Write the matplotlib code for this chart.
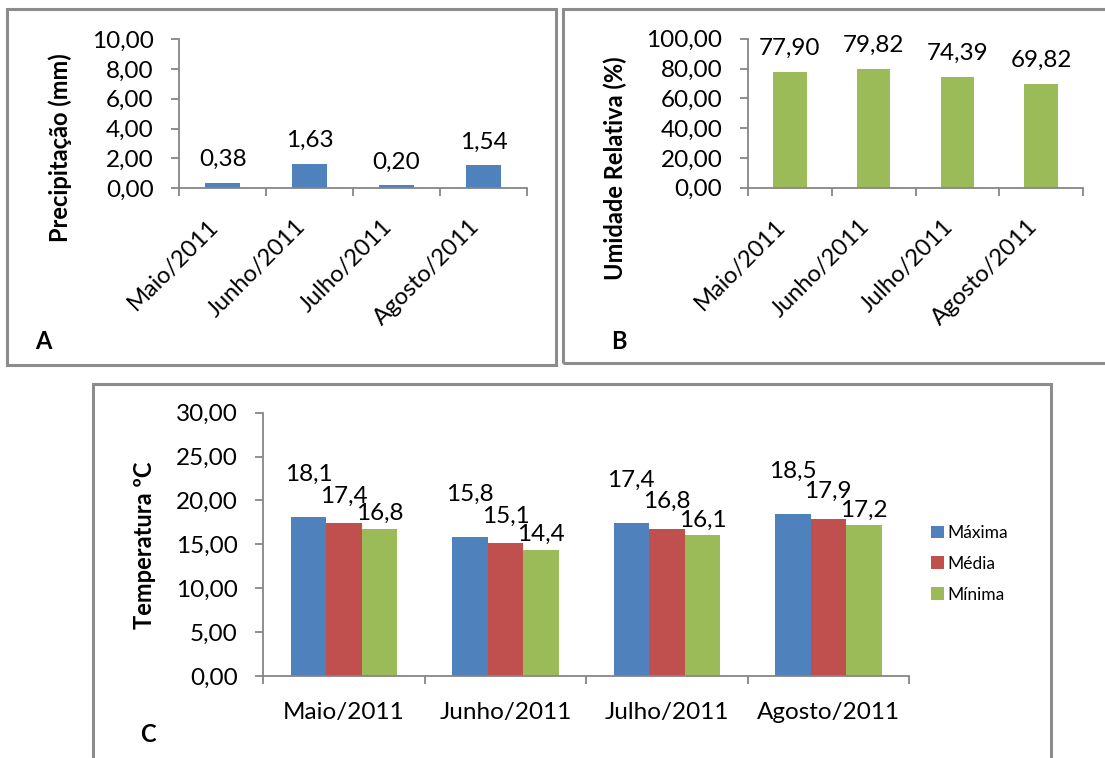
import numpy as np
import matplotlib
matplotlib.use('Agg')
from matplotlib import pyplot as plt
from matplotlib.patches import Rectangle
from matplotlib.ticker import FuncFormatter

plt.rcParams['font.family'] = ['Lato', 'DejaVu Sans']

# dados
meses = ['Maio/2011', 'Junho/2011', 'Julho/2011', 'Agosto/2011']
precipitacao = [0.38, 1.63, 0.20, 1.54]
umidade = [77.90, 79.82, 74.39, 69.82]
t_maxima = [18.1, 15.8, 17.4, 18.5]
t_media = [17.4, 15.1, 16.8, 17.9]
t_minima = [16.8, 14.4, 16.1, 17.2]
series_temp = ['Máxima', 'Média', 'Mínima']

W, H = 1105, 758
azul, vermelho, verde = '#4f81bd', '#c0504d', '#9bbb59'
cinza = '#868686'
fs = 17.5
fs_rot = 17


def virgula(v, casas):
    return f'{v:.{casas}f}'.replace('.', ',')


def px(l, t, r, b):
    # retangulo em pixels -> fracao da figura
    return [l / W, 1 - b / H, (r - l) / W, (b - t) / H]


fig = plt.figure(figsize=(W / 100, H / 100), dpi=100)


def moldura(l, t, r, b):
    fig.patches.append(Rectangle((l / W, 1 - b / H), (r - l) / W, (b - t) / H,
                                 transform=fig.transFigure, fill=False,
                                 ec='#8c8c8c', lw=2.2))


def estilo(ax, ymax, ystep, n, rot):
    ax.set_xlim(-0.5, n - 0.5)
    ax.set_ylim(0, ymax)
    ax.set_yticks(np.arange(0, ymax + ystep / 2, ystep))
    ax.yaxis.set_major_formatter(FuncFormatter(lambda v, p: virgula(v, 2)))
    for s in ['top', 'right']:
        ax.spines[s].set_visible(False)
    for s in ['left', 'bottom']:
        ax.spines[s].set_color(cinza)
        ax.spines[s].set_linewidth(1.3)
    ax.tick_params(axis='y', direction='out', length=5.5, width=1.3,
                   color=cinza, labelsize=fs, pad=13)
    # ticks nas divisas das categorias, rotulos no centro
    ax.set_xticks(np.arange(n + 1) - 0.5)
    ax.set_xticklabels([])
    ax.tick_params(axis='x', which='major', direction='out', length=6,
                   width=1.3, color=cinza)
    ax.set_xticks(np.arange(n), meses, minor=True)
    if rot:
        ax.tick_params(axis='x', which='minor', length=0, labelsize=fs_rot, pad=20)
        plt.setp(ax.get_xticklabels(minor=True), rotation=45, ha='right', va='top')
    else:
        ax.tick_params(axis='x', which='minor', length=0, labelsize=fs, pad=19)


x = np.arange(len(meses))

# A - precipitacao
moldura(7, 9, 556, 365)
ax_a = fig.add_axes(px(179.3, 39, 527, 188.3))
ax_a.bar(x, precipitacao, width=0.4, color=azul)
estilo(ax_a, 10, 2, len(meses), True)
for xi, v in zip(x, precipitacao):
    ax_a.annotate(virgula(v, 2), (xi, v), xytext=(0, 12), textcoords='offset points',
                  ha='center', va='baseline', fontsize=fs)
fig.text(60 / W, 1 - 148 / H, 'Precipitação (mm)', rotation=90, ha='center',
         va='center', fontsize=17, fontweight='bold')
fig.text(35 / W, 1 - 349 / H, 'A', ha='left', va='baseline', fontsize=17,
         fontweight='bold')

# B - umidade relativa
moldura(563, 9, 1115, 363)
ax_b = fig.add_axes(px(748, 38.7, 1083, 187.7))
ax_b.bar(x, umidade, width=0.4, color=verde)
estilo(ax_b, 100, 20, len(meses), True)
for xi, v in zip(x, umidade):
    ax_b.annotate(virgula(v, 2), (xi, v), xytext=(0, 12), textcoords='offset points',
                  ha='center', va='baseline', fontsize=fs)
fig.text(615 / W, 1 - 168 / H, 'Umidade Relativa (%)', rotation=90, ha='center',
         va='center', fontsize=17, fontweight='bold')
fig.text(611 / W, 1 - 349 / H, 'B', ha='left', va='baseline', fontsize=17,
         fontweight='bold')

# C - temperatura
moldura(93, 384, 1051, 775)
ax_c = fig.add_axes(px(263.3, 412.7, 909, 676))
w = 0.22
cores = [azul, vermelho, verde]
folgas = [26, 15, 6]
for i, (nome, vals) in enumerate(zip(series_temp, [t_maxima, t_media, t_minima])):
    pos = x + (i - 1) * w
    ax_c.bar(pos, vals, width=w, color=cores[i], label=nome)
    for xi, v in zip(pos, vals):
        ax_c.annotate(virgula(v, 1), (xi, v), xytext=(0, folgas[i]),
                      textcoords='offset points', ha='center', va='baseline',
                      fontsize=fs)
estilo(ax_c, 30, 5, len(meses), False)
fig.text(144 / W, 1 - 545 / H, 'Temperatura ºC', rotation=90, ha='center',
         va='center', fontsize=17, fontweight='bold')
fig.text(140 / W, 1 - 742 / H, 'C', ha='left', va='baseline', fontsize=17,
         fontweight='bold')
ax_c.legend(loc='upper left', bbox_to_anchor=(931 / W, 1 - 525 / H),
            bbox_transform=fig.transFigure, frameon=False, fontsize=12.5,
            handlelength=0.75, handleheight=0.75, handletextpad=0.2,
            labelspacing=0.85, borderpad=0, borderaxespad=0)

fig.savefig('out.png', dpi=100)
